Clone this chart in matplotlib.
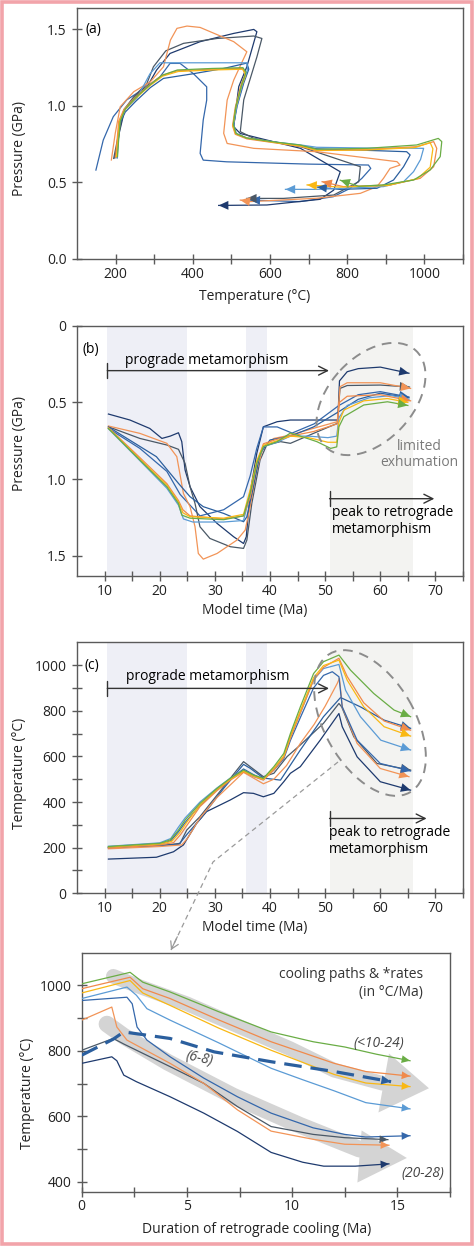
import matplotlib.pyplot as plt
from matplotlib.patches import Ellipse, Polygon, Rectangle

plt.rcParams['font.family'] = ['Open Sans', 'DejaVu Sans']
FS = 10
plt.rcParams['font.size'] = FS

W, H = 474, 1246

series = ['medblue', 'navy', 'gray', 'orange2', 'darkblue', 'lightblue', 'orange1', 'yellow', 'green']
colors = {
    'green': '#6aad45',
    'orange1': '#f08a4b',
    'yellow': '#f9b814',
    'darkblue': '#2b5f9e',
    'lightblue': '#5b9bd5',
    'medblue': '#3467ab',
    'gray': '#4a5866',
    'orange2': '#f29457',
    'navy': '#1e3a6e',
}

# (a) P-T paths: temperature (deg C) / pressure (GPa)
pt_temp = {
    'green': [205, 207, 212, 225, 250, 290, 320, 360, 450, 530, 538, 528, 512, 505, 512, 540, 610, 678, 721, 851, 980, 1036, 1045, 1041, 1015, 972, 894, 830, 782],
    'orange1': [200, 203, 208, 222, 248, 288, 320, 360, 450, 528, 536, 525, 510, 503, 510, 540, 610, 680, 721, 850, 980, 1024, 1032, 1024, 989, 911, 790, 735],
    'yellow': [202, 205, 210, 224, 250, 290, 322, 362, 450, 530, 537, 526, 511, 504, 511, 540, 610, 680, 721, 850, 975, 1015, 1022, 1015, 982, 905, 780, 696],
    'darkblue': [204, 206, 210, 225, 252, 290, 324, 400, 480, 540, 545, 532, 515, 506, 512, 540, 610, 680, 721, 850, 954, 963, 946, 920, 877, 780, 722],
    'lightblue': [203, 206, 211, 226, 255, 289, 315, 400, 480, 540, 542, 530, 514, 506, 512, 540, 610, 680, 721, 850, 960, 998, 990, 972, 946, 894, 721, 640],
    'orange2': [189, 199, 212, 247, 290, 324, 342, 359, 385, 419, 506, 540, 530, 506, 489, 480, 489, 558, 721, 929, 937, 911, 894, 877, 834, 721, 548, 523],
    'gray': [195, 208, 221, 247, 281, 298, 330, 376, 463, 558, 579, 566, 532, 523, 558, 679, 834, 830, 765, 635, 540],
    'navy': [198, 210, 224, 250, 285, 306, 341, 419, 506, 558, 566, 540, 519, 506, 523, 592, 679, 782, 765, 730, 592, 467],
    'medblue': [149, 168, 194, 229, 281, 315, 341, 367, 402, 436, 436, 427, 419, 427, 488, 700, 855, 861, 838, 808, 764, 678, 549],
}
pt_pres = {
    'green': [0.67, 0.75, 0.90, 0.98, 1.05, 1.14, 1.20, 1.235, 1.245, 1.25, 1.22, 1.15, 1.00, 0.88, 0.82, 0.79, 0.765, 0.745, 0.717, 0.723, 0.745, 0.788, 0.767, 0.669, 0.582, 0.516, 0.484, 0.475, 0.515],
    'orange1': [0.665, 0.75, 0.90, 0.98, 1.05, 1.14, 1.20, 1.23, 1.24, 1.245, 1.21, 1.14, 0.99, 0.87, 0.815, 0.785, 0.76, 0.735, 0.708, 0.715, 0.734, 0.767, 0.723, 0.603, 0.527, 0.484, 0.473, 0.505],
    'yellow': [0.668, 0.75, 0.90, 0.975, 1.045, 1.135, 1.195, 1.225, 1.235, 1.24, 1.20, 1.13, 0.985, 0.87, 0.818, 0.79, 0.762, 0.738, 0.71, 0.712, 0.728, 0.76, 0.72, 0.60, 0.525, 0.48, 0.47, 0.484],
    'darkblue': [0.66, 0.74, 0.88, 0.96, 1.03, 1.12, 1.18, 1.21, 1.245, 1.28, 1.24, 1.15, 1.00, 0.88, 0.82, 0.79, 0.765, 0.74, 0.72, 0.71, 0.701, 0.68, 0.603, 0.516, 0.462, 0.455, 0.47],
    'lightblue': [0.665, 0.75, 0.90, 0.98, 1.05, 1.21, 1.282, 1.282, 1.282, 1.282, 1.24, 1.15, 1.00, 0.88, 0.82, 0.79, 0.765, 0.745, 0.73, 0.725, 0.724, 0.723, 0.65, 0.571, 0.505, 0.473, 0.455, 0.455],
    'orange2': [0.647, 0.82, 0.995, 1.093, 1.158, 1.256, 1.43, 1.507, 1.522, 1.513, 1.42, 1.354, 1.30, 1.169, 1.038, 0.821, 0.755, 0.723, 0.701, 0.636, 0.614, 0.592, 0.527, 0.473, 0.429, 0.397, 0.375, 0.385],
    'gray': [0.657, 0.82, 0.973, 1.06, 1.147, 1.256, 1.36, 1.409, 1.441, 1.457, 1.441, 1.32, 1.04, 0.832, 0.788, 0.734, 0.603, 0.505, 0.418, 0.396, 0.396],
    'navy': [0.66, 0.83, 0.98, 1.06, 1.14, 1.234, 1.343, 1.42, 1.474, 1.50, 1.485, 1.256, 1.126, 0.864, 0.82, 0.777, 0.723, 0.57, 0.45, 0.39, 0.353, 0.35],
    'medblue': [0.581, 0.777, 0.93, 1.04, 1.125, 1.19, 1.278, 1.278, 1.21, 1.125, 1.038, 0.908, 0.69, 0.646, 0.635, 0.62, 0.614, 0.592, 0.527, 0.462, 0.407, 0.375, 0.385],
}

# (b) pressure vs model time
tp_time = {
    'green': [10.7, 16.4, 21.3, 23.4, 24.0, 25.5, 31.6, 35.2, 36.4, 37.6, 38.8, 41.3, 43.7, 44.9, 48.5, 51.0, 52.1, 52.5, 53.4, 57.0, 61.3, 65.0],
    'yellow': [10.7, 16.4, 21.3, 23.4, 24.2, 25.5, 31.6, 35.2, 36.4, 37.6, 38.8, 41.3, 43.7, 47.0, 50.5, 52.1, 52.5, 53.4, 57.0, 61.3, 65.0],
    'lightblue': [10.7, 16.4, 21.3, 23.4, 24.3, 26.0, 31.6, 35.2, 36.4, 37.6, 38.8, 41.3, 43.7, 47.0, 50.5, 52.1, 52.5, 54.0, 58.0, 62.0, 65.2],
    'darkblue': [10.7, 19.4, 23.4, 25.5, 27.9, 31.6, 35.2, 35.8, 37.0, 38.2, 40.0, 43.7, 47.9, 52.5, 56.0, 60.0, 65.2],
    'orange1': [10.7, 16.4, 21.3, 23.4, 24.2, 25.5, 31.6, 35.2, 36.4, 37.6, 38.8, 41.3, 43.7, 47.9, 52.2, 52.6, 54.0, 60.0, 65.5],
    'orange2': [10.7, 16.4, 21.3, 23.1, 24.3, 25.5, 26.4, 27.0, 27.9, 30.4, 34.0, 35.5, 36.4, 37.6, 38.8, 40.7, 43.7, 47.9, 52.2, 52.7, 54.0, 60.0, 65.5],
    'gray': [10.7, 16.4, 21.3, 23.4, 24.6, 25.5, 26.4, 27.3, 29.1, 32.8, 35.2, 35.8, 36.7, 38.2, 39.4, 41.9, 43.7, 47.9, 52.2, 52.7, 54.0, 60.0, 65.3],
    'navy': [10.7, 14.6, 18.2, 20.4, 21.9, 23.4, 24.0, 24.6, 25.5, 27.3, 30.4, 33.4, 35.2, 35.7, 36.4, 37.6, 38.8, 41.3, 43.7, 48.0, 52.3, 52.6, 54.0, 56.0, 60.0, 65.2],
    'medblue': [10.7, 16.4, 21.3, 23.7, 27.3, 31.6, 35.2, 36.4, 37.6, 38.8, 41.3, 44.0, 48.0, 52.5, 56.0, 60.0, 65.2],
}
tp_pres = {
    'green': [0.67, 0.876, 1.05, 1.159, 1.235, 1.255, 1.265, 1.24, 1.094, 0.898, 0.789, 0.756, 0.70, 0.713, 0.756, 0.80, 0.79, 0.659, 0.593, 0.517, 0.496, 0.52],
    'yellow': [0.668, 0.87, 1.04, 1.15, 1.22, 1.245, 1.255, 1.23, 1.07, 0.88, 0.78, 0.75, 0.72, 0.73, 0.76, 0.76, 0.63, 0.55, 0.49, 0.475, 0.50],
    'lightblue': [0.672, 0.88, 1.06, 1.17, 1.26, 1.28, 1.28, 1.27, 1.10, 0.90, 0.79, 0.76, 0.72, 0.72, 0.73, 0.72, 0.60, 0.52, 0.47, 0.455, 0.48],
    'darkblue': [0.66, 0.854, 1.028, 1.115, 1.18, 1.224, 1.278, 1.246, 1.05, 0.833, 0.745, 0.72, 0.66, 0.56, 0.48, 0.44, 0.47],
    'orange1': [0.665, 0.86, 1.03, 1.14, 1.20, 1.24, 1.26, 1.24, 1.12, 0.90, 0.77, 0.74, 0.72, 0.69, 0.64, 0.50, 0.46, 0.45, 0.49],
    'orange2': [0.654, 0.702, 0.767, 0.854, 1.094, 1.18, 1.31, 1.485, 1.522, 1.485, 1.398, 1.333, 1.18, 0.941, 0.789, 0.735, 0.713, 0.669, 0.626, 0.398, 0.372, 0.372, 0.409],
    'gray': [0.659, 0.735, 0.778, 0.806, 0.898, 1.05, 1.159, 1.311, 1.387, 1.441, 1.452, 1.398, 1.159, 0.876, 0.778, 0.756, 0.767, 0.702, 0.637, 0.409, 0.39, 0.387, 0.40],
    'navy': [0.576, 0.615, 0.67, 0.735, 0.72, 0.698, 0.756, 0.941, 1.05, 1.18, 1.289, 1.376, 1.42, 1.376, 1.09, 0.833, 0.659, 0.626, 0.615, 0.615, 0.615, 0.36, 0.30, 0.28, 0.27, 0.31],
    'medblue': [0.67, 0.80, 0.95, 1.10, 1.24, 1.20, 1.115, 0.98, 0.80, 0.66, 0.66, 0.70, 0.64, 0.52, 0.45, 0.43, 0.465],
}

# (c) temperature vs model time
tt_time = {
    'green': [10.7, 20.0, 21.9, 23.4, 24.6, 27.3, 30.4, 32.8, 35.2, 37.0, 38.8, 40.7, 42.5, 43.7, 45.5, 47.9, 49.7, 52.5, 54.6, 58.8, 62.5, 65.5],
    'yellow': [10.7, 20.0, 22.2, 23.6, 24.8, 27.3, 30.4, 32.8, 35.2, 37.0, 38.8, 40.7, 42.5, 43.7, 45.5, 47.9, 49.7, 52.5, 54.0, 57.0, 60.7, 65.5],
    'lightblue': [10.7, 20.0, 22.0, 23.4, 24.6, 27.3, 30.4, 32.8, 35.2, 37.0, 38.8, 40.7, 42.5, 43.7, 45.5, 47.9, 49.7, 52.5, 53.7, 56.4, 60.1, 65.5],
    'medblue': [10.7, 20.0, 22.0, 23.4, 24.6, 27.3, 30.4, 32.8, 35.2, 37.0, 38.8, 40.7, 42.5, 43.7, 45.5, 47.9, 49.7, 51.3, 52.5, 53.1, 55.8, 60.0, 65.5],
    'orange1': [10.7, 20.0, 22.5, 23.8, 25.0, 27.3, 30.4, 32.8, 35.2, 37.0, 38.8, 40.7, 42.5, 43.7, 45.5, 47.9, 49.7, 52.5, 54.0, 57.0, 60.7, 65.5],
    'orange2': [10.7, 20.0, 24.0, 25.0, 27.3, 30.4, 35.2, 37.0, 38.8, 40.7, 43.0, 45.5, 48.0, 50.0, 52.2, 52.6, 53.1, 55.8, 60.0, 65.2],
    'gray': [10.7, 20.0, 23.7, 24.9, 27.3, 31.6, 35.2, 36.4, 38.8, 40.7, 43.1, 45.5, 49.7, 52.5, 53.0, 55.2, 59.4, 65.5],
    'darkblue': [10.7, 20.0, 23.5, 25.0, 27.5, 31.6, 35.2, 36.4, 38.8, 41.9, 45.5, 49.7, 52.8, 56.4, 60.7, 65.5],
    'navy': [10.7, 19.4, 22.5, 24.3, 26.7, 28.5, 32.8, 35.2, 37.0, 38.8, 40.7, 42.5, 43.7, 45.5, 49.1, 52.5, 53.1, 55.8, 60.0, 65.5],
}
tt_temp = {
    'green': [205, 219, 234, 277, 321, 394, 460, 504, 540, 518, 504, 555, 613, 700, 817, 963, 1015, 1044, 978, 876, 803, 774],
    'yellow': [203, 216, 228, 265, 308, 388, 456, 500, 535, 515, 500, 548, 602, 690, 800, 945, 998, 1022, 934, 817, 730, 689],
    'lightblue': [206, 221, 240, 290, 330, 400, 462, 505, 535, 512, 498, 545, 598, 685, 790, 935, 985, 1003, 890, 774, 671, 628],
    'medblue': [200, 214, 230, 270, 310, 385, 455, 500, 545, 520, 500, 540, 590, 670, 770, 900, 955, 971, 949, 817, 671, 569, 536],
    'orange1': [198, 212, 222, 258, 300, 380, 450, 496, 532, 512, 496, 540, 595, 680, 790, 935, 990, 1030, 950, 835, 755, 715],
    'orange2': [195, 205, 212, 240, 330, 420, 530, 505, 480, 500, 560, 657, 740, 820, 920, 942, 817, 657, 547, 511],
    'gray': [200, 208, 219, 277, 336, 467, 577, 555, 511, 526, 599, 650, 745, 832, 817, 686, 569, 540],
    'darkblue': [202, 210, 215, 260, 330, 460, 565, 548, 505, 496, 628, 774, 858, 817, 759, 723],
    'navy': [150, 158, 182, 212, 307, 358, 409, 441, 438, 423, 438, 489, 526, 555, 671, 788, 730, 598, 489, 452],
}

# (d) retrograde cooling paths
cool_dur = {
    'navy': [0, 1.43, 1.67, 2.0, 2.6, 4.2, 5.8, 7.4, 9.0, 10.5, 11.5, 13.0, 14.6],
    'gray': [0, 1.5, 2.0, 4.2, 5.8, 7.4, 9.0, 11.0, 12.5, 14.55],
    'orange2': [0, 1.43, 1.67, 2.15, 4.2, 5.8, 7.4, 9.0, 11.0, 12.5, 14.6],
    'medblue': [0, 2.15, 2.4, 2.63, 3.1, 4.2, 5.8, 7.4, 9.0, 11.0, 12.5, 13.5, 15.6],
    'lightblue': [0, 2.15, 2.6, 3.1, 4.2, 6.5, 9.0, 10.5, 12.0, 13.5, 15.6],
    'yellow': [0, 2.3, 2.9, 4.2, 6.5, 9.0, 10.5, 12.0, 13.5, 15.6],
    'orange1': [0, 2.3, 2.9, 4.2, 6.5, 9.0, 10.5, 12.0, 13.5, 15.6],
    'green': [0, 2.3, 2.9, 4.2, 6.5, 9.0, 11.0, 12.5, 14.0, 15.6],
    'darkblue': [0, 1.5, 2.0, 4.2, 6.3, 9.0, 12.0, 14.7],
}
cool_temp = {
    'navy': [762, 782, 770, 726, 706, 660, 610, 554, 490, 460, 448, 448, 455],
    'gray': [802, 838, 821, 752, 701, 630, 569, 545, 535, 529],
    'orange2': [894, 934, 873, 833, 762, 701, 620, 555, 530, 515, 512],
    'medblue': [954, 964, 944, 873, 833, 782, 717, 660, 610, 565, 545, 537, 541],
    'lightblue': [960, 995, 970, 929, 894, 825, 747, 712, 678, 642, 623],
    'yellow': [977, 1015, 977, 939, 870, 802, 765, 728, 702, 691],
    'orange1': [990, 1025, 990, 960, 895, 828, 795, 762, 737, 723],
    'green': [1005, 1040, 1010, 980, 920, 858, 828, 812, 790, 770],
    'darkblue': [787, 836, 858, 838, 797, 767, 737, 706],
}

# grey "trend" bands behind the cooling paths
band_hot_x = [1.5, 2.8, 5.0, 9.9, 12.0, 14.3]
band_hot_T = [1028, 995, 944, 807, 741, 701]
head_hot = [(14.1, 612), (14.6, 792), (16.5, 686)]
band_cool_x = [1.2, 2.0, 4.1, 7.2, 10.4, 13.2]
band_cool_T = [882, 845, 765, 662, 572, 500]
head_cool = [(13.1, 398), (13.3, 557), (15.45, 473)]

# shaded time windows in (b) and (c)
spans = [(10.5, 25.0, '#eeeff6'), (35.7, 39.4, '#eeeff6'), (50.8, 66.0, '#f3f3f1')]


def draw_path(ax, x, y, color, lw=0.9, hl=0.7, hw=0.32, **kw):
    ax.plot(x, y, color=color, lw=lw, solid_joinstyle='round', zorder=3, **kw)
    ax.annotate('', xy=(x[-1], y[-1]), xytext=(x[-2], y[-2]),
                arrowprops=dict(arrowstyle=f'-|>,head_length={hl},head_width={hw}',
                                fc=color, ec=color, lw=0, shrinkA=0, shrinkB=0),
                zorder=4)


def style(ax, xt, xl, yt, yl):
    ax.set_xticks(xt)
    ax.set_xticklabels(xl)
    ax.set_yticks(yt)
    ax.set_yticklabels(yl)
    ax.tick_params(direction='inout', length=7, width=1.0, color='#5a5a5a',
                   labelsize=FS, labelcolor='#222222')
    ax.tick_params(axis='x', pad=2)
    ax.tick_params(axis='y', pad=4)
    for s in ax.spines.values():
        s.set_color('#5a5a5a')
        s.set_linewidth(1.0)


def set_labels(ax, xlabel, xpos, ylabel, ypos):
    ax.set_xlabel(xlabel, fontsize=FS, color='#222222')
    ax.xaxis.set_label_coords(*xpos)
    ax.xaxis.label.set_va('center')
    ax.set_ylabel(ylabel, fontsize=FS, color='#222222')
    ax.yaxis.set_label_coords(*ypos)
    ax.yaxis.label.set_va('center')


fig = plt.figure(figsize=(W / 100, H / 100), dpi=100)
axA = fig.add_axes([77 / W, 1 - 259 / H, 386 / W, 251 / H])
axB = fig.add_axes([77 / W, 1 - 576 / H, 386 / W, 250.3 / H])
axC = fig.add_axes([77 / W, 1 - 893.3 / H, 386 / W, 251 / H])
axD = fig.add_axes([81.7 / W, 1 - 1191.7 / H, 368.3 / W, 239 / H])

# ---- (a)
for s in series:
    draw_path(axA, pt_temp[s], pt_pres[s], colors[s])
axA.set_xlim(100, 1100)
axA.set_ylim(0, 1.64)
style(axA, list(range(200, 1101, 100)), ['200', '', '400', '', '600', '', '800', '', '1000', ''],
      [0, 0.5, 1.0, 1.5], ['0.0', '0.5', '1.0', '1.5'])
set_labels(axA, 'Temperature (°C)', (0.459, -0.151), 'Pressure (GPa)', (-0.150, 0.442))
axA.text(121, 1.5, '(a)', va='center', ha='left', fontsize=FS)

# ---- (b)
for lo, hi, c in spans:
    axB.axvspan(lo, hi, color=c, lw=0, zorder=0)
for s in ['navy', 'medblue', 'gray', 'orange2', 'darkblue', 'lightblue', 'orange1', 'yellow', 'green']:
    draw_path(axB, tp_time[s], tp_pres[s], colors[s])
axB.set_xlim(5, 75)
axB.set_ylim(1.632, 0)
style(axB, list(range(10, 76, 5)), ['10', '', '20', '', '30', '', '40', '', '50', '', '60', '', '70', ''],
      [0, 0.5, 1.0, 1.5], ['0', '0.5', '1.0', '1.5'])
set_labels(axB, 'Model time (Ma)', (0.461, -0.136), 'Pressure (GPa)', (-0.150, 0.531))
axB.text(6.0, 0.152, '(b)', va='center', ha='left', fontsize=FS)
axB.text(28.6, 0.224, 'prograde metamorphism', ha='center', va='center', fontsize=FS)
axB.annotate('', xy=(50.7, 0.293), xytext=(10.5, 0.293),
             arrowprops=dict(arrowstyle=']->,widthA=0.35,lengthA=0', color='#333333',
                             lw=1.0, mutation_scale=16, shrinkA=0, shrinkB=0))
axB.annotate('', xy=(69.8, 1.128), xytext=(50.8, 1.128),
             arrowprops=dict(arrowstyle=']->,widthA=0.35,lengthA=0', color='#333333',
                             lw=1.0, mutation_scale=16, shrinkA=0, shrinkB=0))
axB.text(51.3, 1.275, 'peak to retrograde\nmetamorphism', ha='left', va='center',
         fontsize=FS, linespacing=1.2)
axB.text(67.0, 0.84, 'limited\nexhumation', ha='center', va='center', fontsize=FS,
         color='#7a7a7a', linespacing=1.1)

# ---- (c)
for lo, hi, c in spans:
    axC.axvspan(lo, hi, color=c, lw=0, zorder=0)
for s in ['navy', 'gray', 'darkblue', 'orange2', 'medblue', 'lightblue', 'orange1', 'yellow', 'green']:
    draw_path(axC, tt_time[s], tt_temp[s], colors[s])
axC.set_xlim(5, 75)
axC.set_ylim(0, 1100)
style(axC, list(range(10, 76, 5)), ['10', '', '20', '', '30', '', '40', '', '50', '', '60', '', '70', ''],
      list(range(0, 1001, 100)), ['0', '', '200', '', '400', '', '600', '', '800', '', '1000'])
set_labels(axC, 'Model time (Ma)', (0.461, -0.138), 'Temperature (°C)', (-0.150, 0.479))
axC.text(6.4, 1000, '(c)', va='center', ha='left', fontsize=FS)
axC.text(28.8, 949, 'prograde metamorphism', ha='center', va='center', fontsize=FS)
axC.annotate('', xy=(50.7, 898), xytext=(10.5, 898),
             arrowprops=dict(arrowstyle=']->,widthA=0.35,lengthA=0', color='#333333',
                             lw=1.0, mutation_scale=16, shrinkA=0, shrinkB=0))
axC.annotate('', xy=(68.4, 328), xytext=(50.8, 328),
             arrowprops=dict(arrowstyle=']->,widthA=0.35,lengthA=0', color='#333333',
                             lw=1.0, mutation_scale=16, shrinkA=0, shrinkB=0))
axC.text(50.7, 229, 'peak to retrograde\nmetamorphism', ha='left', va='center',
         fontsize=FS, linespacing=1.2)

# ---- (d)
axD.plot(band_hot_x, band_hot_T, color='#d4d4d4', lw=10.5, solid_capstyle='round', zorder=1)
axD.add_patch(Polygon(head_hot, closed=True, fc='#d4d4d4', ec='none', zorder=1))
axD.plot(band_cool_x, band_cool_T, color='#d4d4d4', lw=12, solid_capstyle='round', zorder=1)
axD.add_patch(Polygon(head_cool, closed=True, fc='#d4d4d4', ec='none', zorder=1))
for s in ['navy', 'gray', 'orange2', 'medblue', 'lightblue', 'yellow', 'orange1', 'green']:
    draw_path(axD, cool_dur[s], cool_temp[s], colors[s], lw=0.9, hl=0.6, hw=0.28)
draw_path(axD, cool_dur['darkblue'], cool_temp['darkblue'], colors['darkblue'], lw=2.3,
          hl=0.7, hw=0.32, dashes=(5.5, 2.8))
axD.set_xlim(0, 17.5)
axD.set_ylim(370, 1100)
style(axD, [0, 2.5, 5, 7.5, 10, 12.5, 15, 17.5], ['0', '', '5', '', '10', '', '15', ''],
      list(range(400, 1001, 100)), ['400', '', '600', '', '800', '', '1000'])
set_labels(axD, 'Duration of retrograde cooling (Ma)', (0.476, -0.160),
           'Temperature (°C)', (-0.146, 0.413))
axD.text(16.2, 1005, 'cooling paths & *rates\n(in °C/Ma)', ha='right', va='center',
         multialignment='right', fontsize=FS, color='#333333', linespacing=1.3)
axD.text(14.1, 822, '(<10-24)', ha='center', va='center', style='italic', fontsize=FS, color='#444444')
axD.text(5.6, 777, '(6-8)', ha='center', va='center', style='italic', fontsize=FS,
         color='#444444', rotation=-12)
axD.text(16.2, 427, '(20-28)', ha='center', va='center', style='italic', fontsize=FS, color='#444444')

# ---- overlay in pixel space: dashed ellipses, connector, border
ell_b = ((371, 399), 132, 84, -47)
ell_c = ((370, 723), 160, 90, 60)
link_x = [338, 213, 171]
link_y = [762, 862, 950]

ov = fig.add_axes([0, 0, 1, 1], zorder=10)
ov.set_xlim(0, W)
ov.set_ylim(H, 0)
ov.axis('off')
ov.patch.set_alpha(0)
for (cx, cy), w, h, ang in [ell_b, ell_c]:
    ov.add_patch(Ellipse((cx, cy), w, h, angle=ang, fill=False, ec='#8c8c8c', lw=1.4,
                         ls=(0, (5, 3.5))))
ov.plot(link_x, link_y, color='#9a9a9a', lw=0.9, ls=(0, (4, 3)))
ov.annotate('', xy=(link_x[-1], link_y[-1]),
            xytext=(link_x[-2] + 0.85 * (link_x[-1] - link_x[-2]),
                    link_y[-2] + 0.85 * (link_y[-1] - link_y[-2])),
            arrowprops=dict(arrowstyle='->,head_length=0.5,head_width=0.3', color='#9a9a9a',
                            lw=0.9, shrinkA=0, shrinkB=0))
ov.add_patch(Rectangle((1.7, 1.7), W - 3.4, H - 3.4, fill=False, ec='#f2a4aa', lw=2.6))

fig.savefig('out.png', dpi=100)
